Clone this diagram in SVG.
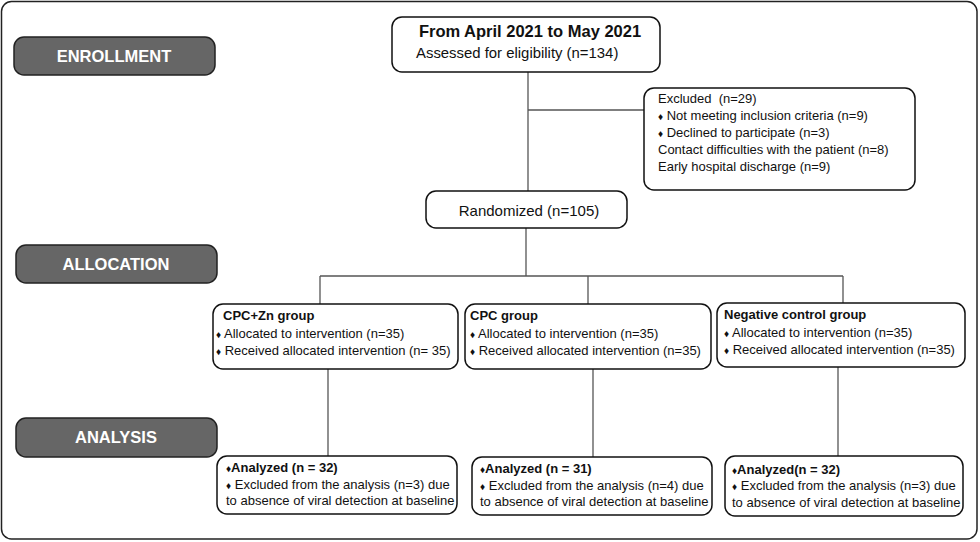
<svg xmlns="http://www.w3.org/2000/svg" width="980" height="542" viewBox="0 0 980 542">
<style>
.bg{fill:#fff}
.frame{fill:#fff;stroke:#222;stroke-width:1.5}
.phase{fill:#666;stroke:#222;stroke-width:1.5}
.phase-t{font-family:"Liberation Sans",Arial,sans-serif;font-weight:bold;font-size:16.5px;fill:#fff;text-anchor:middle}
.box{fill:#fff;stroke:#111;stroke-width:1.5}
.t{font-family:"Liberation Sans",Arial,sans-serif;font-size:13px;fill:#111}
.b{font-weight:bold}
.d{font-size:10px}
.conn line{stroke:#555;stroke-width:1.3}
</style>
<rect class="bg" width="980" height="542"/>
<rect class="frame" x="1.5" y="1.5" width="975.5" height="537.5" rx="10"/>

<g id="phase-enrollment"><rect class="phase" x="14" y="37" width="201" height="38" rx="10"/><text class="phase-t" x="114" y="62">ENROLLMENT</text></g>
<g id="phase-allocation"><rect class="phase" x="16" y="245" width="201" height="38" rx="10"/><text class="phase-t" x="116" y="270">ALLOCATION</text></g>
<g id="phase-analysis"><rect class="phase" x="16" y="418" width="201" height="39" rx="10"/><text class="phase-t" x="116" y="443">ANALYSIS</text></g>

<g class="conn" id="connectors">
<line x1="528" y1="72" x2="528" y2="191"/>
<line x1="528" y1="110" x2="644" y2="110"/>
<line x1="526" y1="228" x2="526" y2="276"/>
<line x1="320" y1="276" x2="843" y2="276"/>
<line x1="320" y1="276" x2="320" y2="304"/>
<line x1="588" y1="276" x2="588" y2="304"/>
<line x1="843" y1="276" x2="843" y2="303"/>
<line x1="328" y1="369" x2="328" y2="456"/>
<line x1="593" y1="369" x2="593" y2="457"/>
<line x1="838" y1="367" x2="838" y2="456"/>
</g>

<g id="assessed"><rect class="box" x="392" y="17" width="268" height="55" rx="10"/>
<text class="t b" x="530" y="37" text-anchor="middle" style="font-size:16.5px">From April 2021 to May 2021</text>
<text class="t" x="416" y="58" style="font-size:14.9px">Assessed for eligibility (n=134)</text></g>

<g id="excluded"><rect class="box" x="644" y="88" width="271" height="102" rx="10"/>
<text class="t" x="658" y="103">Excluded&#160; (n=29)</text>
<text class="t" x="658" y="120"><tspan class="d">♦</tspan> Not meeting inclusion criteria (n=9)</text>
<text class="t" x="658" y="137"><tspan class="d">♦</tspan> Declined to participate (n=3)</text>
<text class="t" x="658" y="154">Contact difficulties with the patient (n=8)</text>
<text class="t" x="658" y="171">Early hospital discharge (n=9)</text></g>

<g id="randomized"><rect class="box" x="426" y="191" width="201" height="37" rx="10"/>
<text class="t" x="529" y="216" text-anchor="middle" style="font-size:15px">Randomized (n=105)</text></g>

<g id="cpczn"><rect class="box" x="213" y="304" width="245" height="65" rx="10"/>
<text class="t b" x="223" y="320">CPC+Zn group</text>
<text class="t" x="216" y="338"><tspan class="d">♦</tspan> Allocated to intervention (n=35)</text>
<text class="t" x="216" y="355"><tspan class="d">♦</tspan> Received allocated intervention (n= 35)</text></g>

<g id="cpc"><rect class="box" x="465" y="304" width="246" height="65" rx="10"/>
<text class="t b" x="470" y="320">CPC group</text>
<text class="t" x="470" y="338"><tspan class="d">♦</tspan> Allocated to intervention (n=35)</text>
<text class="t" x="470" y="355"><tspan class="d">♦</tspan> Received allocated intervention (n=35)</text></g>

<g id="negative"><rect class="box" x="717" y="303" width="248" height="64" rx="10"/>
<text class="t b" x="724" y="319">Negative control group</text>
<text class="t" x="724" y="337"><tspan class="d">♦</tspan> Allocated to intervention (n=35)</text>
<text class="t" x="724" y="354"><tspan class="d">♦</tspan> Received allocated intervention (n=35)</text></g>

<g id="analyzed-cpczn"><rect class="box" x="217" y="456" width="240" height="58" rx="10"/>
<text class="t" x="226" y="472"><tspan class="d">♦</tspan><tspan class="b">Analyzed</tspan> <tspan class="b">(n = 32)</tspan></text>
<text class="t" x="226" y="489"><tspan class="d">♦</tspan> Excluded from the analysis (n=3) due</text>
<text class="t" x="226" y="505">to absence of viral detection at baseline</text></g>

<g id="analyzed-cpc"><rect class="box" x="472" y="457" width="240" height="58" rx="10"/>
<text class="t" x="480" y="473"><tspan class="d">♦</tspan><tspan class="b">Analyzed</tspan> <tspan class="b">(n = 31)</tspan></text>
<text class="t" x="480" y="490"><tspan class="d">♦</tspan> Excluded from the analysis (n=4) due</text>
<text class="t" x="480" y="506">to absence of viral detection at baseline</text></g>

<g id="analyzed-negative"><rect class="box" x="725" y="456" width="238" height="60" rx="10"/>
<text class="t" x="732" y="474"><tspan class="d">♦</tspan><tspan class="b">Analyzed(n = 32)</tspan></text>
<text class="t" x="732" y="490"><tspan class="d">♦</tspan> Excluded from the analysis (n=3) due</text>
<text class="t" x="732" y="507">to absence of viral detection at baseline</text></g>
</svg>
